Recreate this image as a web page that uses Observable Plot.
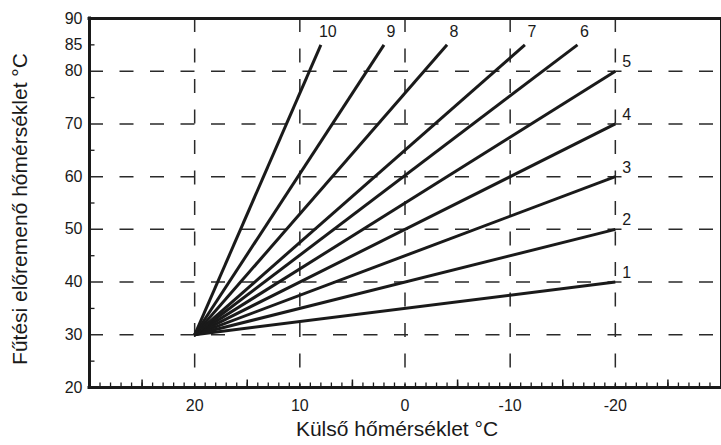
<!DOCTYPE html>
<html>
<head>
<meta charset="utf-8">
<script src="https://cdn.jsdelivr.net/npm/d3@7"></script>
<script src="https://cdn.jsdelivr.net/npm/@observablehq/plot@0.6"></script>
<style>
  html, body { margin: 0; padding: 0; background: #fff; }
  #chart { width: 721px; height: 445px; }
</style>
</head>
<body>
<div id="chart"></div>
<script>
// ---- data ----
const curveNames = ["1", "2", "3", "4", "5", "6", "7", "8", "9", "10"];
const startOutdoor = 20;
const startFlow = 30;
const endOutdoor = [-20, -20, -20, -20, -20, -16.4, -11.4, -4, 2, 8];
const endFlow = [40, 50, 60, 70, 80, 85, 85, 85, 85, 85];

const xTickValues = [20, 10, 0, -10, -20];
const yTickValues = [20, 30, 40, 50, 60, 70, 80, 85, 90];
const xGridValues = [20, 10, 0, -10, -20];
const yGridValues = [30, 40, 50, 60, 70, 80];
const xMidTicks = [25, 15, 5, -5, -15, -25];
const yMinorTicks = [25, 35, 45, 55, 65, 75, 85];
const xDomain = [30, -30];
const yDomain = [20, 90];

const xTitle = "Külső hőmérséklet °C";
const yTitle = "Fűtési előremenő hőmérséklet °C";

// table for marks
const curves = curveNames.map((name, i) => ({
  name,
  x1: startOutdoor, y1: startFlow,
  x2: endOutdoor[i], y2: endFlow[i]
}));
const xMinorTicks = d3.range(-29, 30, 1);

const ink = "#1a1a1a";
const gridInk = "#2a2a2a";
const dash = "14,16.5";
const plainFormat = d => String(d);

const chart = Plot.plot({
  width: 721,
  height: 445,
  marginLeft: 89,
  marginRight: 1,
  marginTop: 18,
  marginBottom: 58,
  style: {
    fontFamily: "'Liberation Sans', Arial, Helvetica, sans-serif",
    fontSize: "16px",
    color: ink,
    background: "#fff"
  },
  x: { domain: xDomain, label: null },
  y: { domain: yDomain, label: null },
  marks: [
    // dashed grid
    Plot.ruleY(yGridValues, { stroke: gridInk, strokeWidth: 1.5, strokeDasharray: dash }),
    Plot.ruleX(xGridValues, { stroke: gridInk, strokeWidth: 1.5, strokeDasharray: dash }),
    // minor ticks (inward)
    Plot.axisX({ ticks: xMinorTicks, tickSize: -4.5, text: null, label: null, stroke: ink, strokeWidth: 1.3 }),
    Plot.axisX({ ticks: xMidTicks, tickSize: -7.5, text: null, label: null, stroke: ink, strokeWidth: 1.5 }),
    Plot.axisY({ ticks: yMinorTicks, tickSize: -5.5, text: null, label: null, stroke: ink, strokeWidth: 1.3 }),
    // tick labels
    Plot.axisX({ ticks: xTickValues, tickFormat: plainFormat, tickSize: 0, tickPadding: 12, label: null, fontSize: 16, fill: ink }),
    Plot.axisY({ ticks: yTickValues, tickFormat: plainFormat, tickSize: 0, tickPadding: 7, label: null, fontSize: 16, fill: ink }),
    // frame
    Plot.ruleY([yDomain[1]], { stroke: ink, strokeWidth: 3, strokeLinecap: "square" }),
    Plot.ruleY([yDomain[0]], { stroke: ink, strokeWidth: 3, strokeLinecap: "square" }),
    Plot.ruleX([xDomain[0]], { stroke: ink, strokeWidth: 3, strokeLinecap: "square" }),
    Plot.ruleX([xDomain[1]], { stroke: ink, strokeWidth: 1 }),
    // heating curves
    Plot.link(curves, { x1: "x1", y1: "y1", x2: "x2", y2: "y2", stroke: ink, strokeWidth: 3 }),
    // curve labels
    Plot.text(curves, {
      filter: d => d.y2 < 85,
      x: "x2", y: "y2", text: "name",
      textAnchor: "start", dx: 7, dy: -9, fontSize: 16, fill: ink
    }),
    Plot.text(curves, {
      filter: d => d.y2 >= 85,
      x: "x2", y: "y2", text: "name",
      textAnchor: "middle", dx: 7, dy: -13, fontSize: 16, fill: ink
    }),
    // axis titles
    Plot.text([xTitle], {
      frameAnchor: "bottom", textAnchor: "middle", lineAnchor: "middle", dx: -8, dy: 42, fontSize: 21, fill: ink
    }),
    Plot.text([yTitle], {
      frameAnchor: "left", textAnchor: "middle", lineAnchor: "middle", rotate: -90, dx: -69, dy: 6, fontSize: 21, fill: ink
    })
  ]
});

document.getElementById("chart").appendChild(chart);
</script>
</body>
</html>
